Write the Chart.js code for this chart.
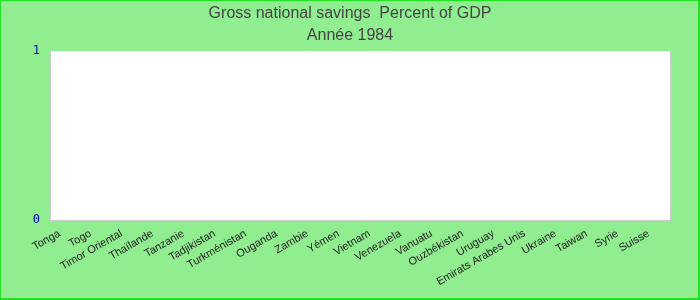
<!DOCTYPE html>
<html>
<head>
<meta charset="utf-8">
<script src="https://cdn.jsdelivr.net/npm/chart.js@4.4.0/dist/chart.umd.min.js"></script>
<style>
html,body{margin:0;padding:0;background:#90ee90;}
#wrap{width:700px;height:300px;position:relative;}
</style>
</head>
<body>
<div id="wrap"><canvas id="c" width="700" height="300"></canvas></div>
<script>
const titleLines = ["Gross national savings  Percent of GDP", "Année 1984"];
const categories = ["Tonga","Togo","Timor Oriental","Thaïlande","Tanzanie","Tadjikistan","Turkménistan","Ouganda","Zambie","Yémen","Vietnam","Venezuela","Vanuatu","Ouzbékistan","Uruguay","Emirats Arabes Unis","Ukraine","Taiwan","Syrie","Suisse"];
const values = [null,null,null,null,null,null,null,null,null,null,null,null,null,null,null,null,null,null,null,null];
const yTicks = [0, 1];

const bgPlugin = {
  id: 'bg',
  beforeDraw(chart) {
    const ctx = chart.ctx;
    ctx.save();
    ctx.fillStyle = '#90ee90';
    ctx.fillRect(0, 0, 700, 300);
    const a = chart.chartArea;
    ctx.fillStyle = '#ffffff';
    ctx.fillRect(a.left, a.top, a.right - a.left, a.bottom - a.top);
    ctx.strokeStyle = '#cccccc';
    ctx.lineWidth = 1;
    ctx.beginPath();
    ctx.moveTo(a.left + 0.5, a.top);
    ctx.lineTo(a.left + 0.5, a.bottom + 0.5);
    ctx.lineTo(a.right + 0.5, a.bottom + 0.5);
    ctx.lineTo(a.right + 0.5, a.top);
    ctx.stroke();
    // title
    ctx.fillStyle = '#444444';
    ctx.font = '16px "Liberation Sans", Arial, sans-serif';
    ctx.textAlign = 'center';
    ctx.textBaseline = 'middle';
    ctx.fillText(titleLines[0], 350, 14);
    ctx.fillText(titleLines[1], 350, 36);
    ctx.restore();
  },
  afterDraw(chart) {
    const ctx = chart.ctx;
    ctx.save();
    ctx.fillStyle = '#22e022';
    ctx.fillRect(0, 0, 700, 1);
    ctx.fillRect(0, 0, 1, 300);
    ctx.fillRect(698, 0, 2, 300);
    ctx.fillRect(0, 298, 700, 2);
    ctx.restore();
  }
};

new Chart(document.getElementById('c'), {
  type: 'bar',
  data: {
    labels: categories,
    datasets: [{ data: values, backgroundColor: '#4472c4' }]
  },
  plugins: [bgPlugin],
  options: {
    responsive: false,
    animation: false,
    layout: { padding: { left: 0, right: 30, top: 51, bottom: 0 } },
    plugins: {
      legend: { display: false },
      tooltip: { enabled: false },
      title: { display: false }
    },
    scales: {
      x: {
        grid: { display: false, drawTicks: false },
        border: { display: false },
        ticks: {
          color: '#222222',
          font: { family: 'Liberation Sans, Arial, sans-serif', size: 11 },
          maxRotation: 30, minRotation: 30,
          autoSkip: false,
          padding: 7,
          labelOffset: -6
        },
        afterFit(s) { s.height = 80; }
      },
      y: {
        min: 0, max: 1,
        grid: { display: false, drawTicks: false },
        border: { display: false },
        afterBuildTicks(s) { s.ticks = yTicks.map(v => ({ value: v })); },
        ticks: {
          color: '#0000aa',
          font: { family: 'DejaVu Sans Mono, monospace', size: 12 },
          padding: 10
        },
        afterFit(s) { s.width = 50; }
      }
    }
  }
});
</script>
</body>
</html>
